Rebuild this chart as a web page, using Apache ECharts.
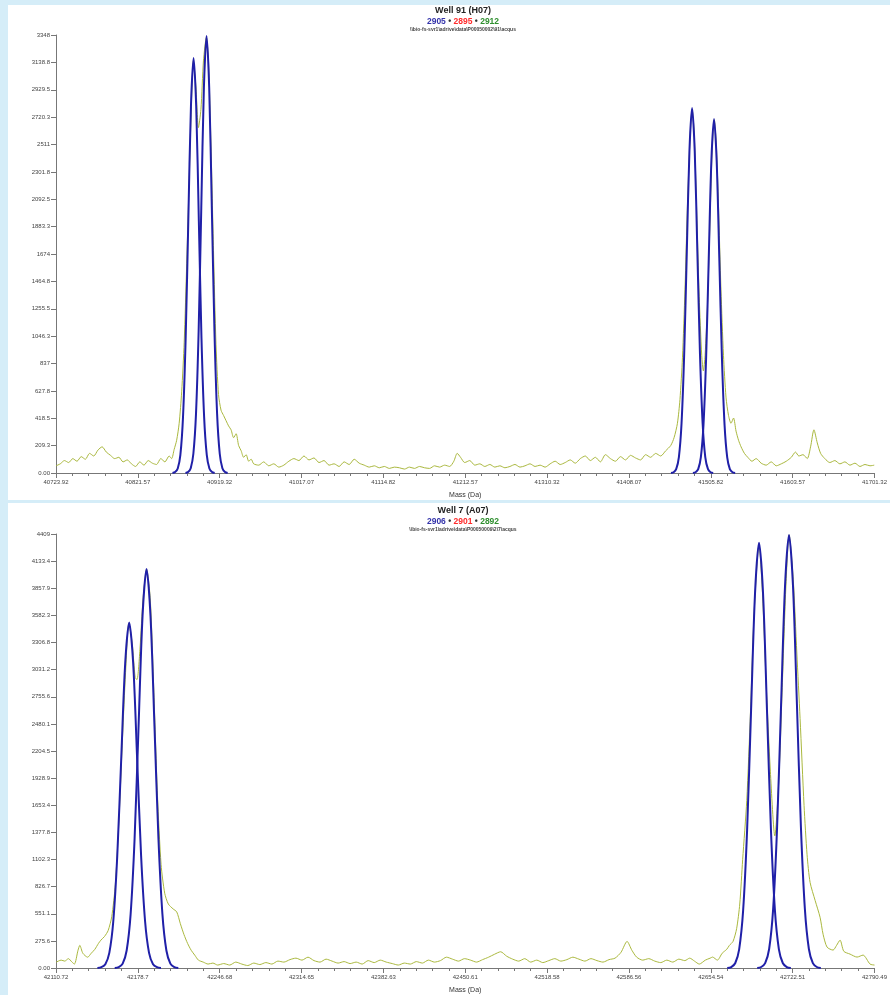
<!DOCTYPE html>
<html>
<head>
<meta charset="utf-8">
<script src="https://cdn.jsdelivr.net/npm/echarts@6/dist/echarts.min.js"></script>
<style>
  html, body { margin: 0; padding: 0; background: #d5edf8; }
  #chart { width: 890px; height: 995px; }
</style>
</head>
<body>
<div id="chart"></div>
<script>
// tick labels as printed on the axes
const topXTicks = ['40723.92', '40821.57', '40919.32', '41017.07', '41114.82', '41212.57', '41310.32', '41408.07', '41505.82', '41603.57', '41701.32'];
const topYTicks = ['0.00', '209.3', '418.5', '627.8', '837', '1046.3', '1255.5', '1464.8', '1674', '1883.3', '2092.5', '2301.8', '2511', '2720.3', '2929.5', '3138.8', '3348'];
const botXTicks = ['42110.72', '42178.7', '42246.68', '42314.65', '42382.63', '42450.61', '42518.58', '42586.56', '42654.54', '42722.51', '42790.49'];
const botYTicks = ['0.00', '275.6', '551.1', '826.7', '1102.3', '1377.8', '1653.4', '1928.9', '2204.5', '2480.1', '2755.6', '3031.2', '3306.8', '3582.3', '3857.9', '4133.4', '4409'];

// raw spectrum, well 91 (H07)  [mass, intensity]
const topSpectrum = [
  [40724, 55], [40729, 70], [40734, 95], [40739, 80], [40744, 110], [40749, 90], [40754, 125], [40759, 105],
  [40764, 150], [40769, 130], [40774, 175], [40779, 200], [40784, 160], [40789, 135], [40794, 110], [40799, 120],
  [40804, 85], [40809, 100], [40814, 70], [40819, 50], [40824, 85], [40829, 60], [40834, 95], [40839, 75],
  [40844, 65], [40849, 110], [40854, 85], [40859, 130], [40862, 110], [40865, 180], [40868, 250], [40871, 380],
  [40874, 620], [40877, 1000], [40880, 1600], [40883, 2250], [40885.5, 2800], [40888, 3150], [40891, 2950],
  [40894, 2640], [40897, 2780], [40900, 3150], [40903.5, 3330], [40906, 3150], [40909, 2500], [40912, 1700],
  [40915, 980], [40918, 600], [40921, 480], [40924, 440], [40927, 400], [40930, 360], [40933, 330], [40936, 270],
  [40939, 300], [40942, 210], [40945, 170], [40948, 120], [40951, 140], [40954, 90], [40957, 105], [40960, 70],
  [40966, 60], [40972, 85], [40978, 55], [40984, 70], [40990, 45], [40996, 60], [41002, 90], [41008, 110],
  [41014, 95], [41020, 130], [41026, 100], [41032, 115], [41038, 80], [41044, 95], [41050, 60], [41056, 70],
  [41062, 50], [41068, 85], [41074, 65], [41080, 105], [41086, 75], [41092, 60], [41098, 45], [41104, 55],
  [41110, 40], [41116, 50], [41122, 35], [41128, 45], [41134, 40], [41140, 30], [41146, 45], [41152, 35],
  [41158, 50], [41164, 40], [41170, 35], [41176, 55], [41182, 45], [41188, 60], [41194, 50], [41199, 90],
  [41203, 150], [41207, 120], [41212, 80], [41218, 95], [41224, 60], [41230, 70], [41236, 50], [41242, 65],
  [41248, 45], [41254, 55], [41260, 40], [41266, 50], [41272, 65], [41278, 45], [41284, 55], [41290, 70],
  [41296, 50], [41302, 60], [41308, 45], [41314, 70], [41320, 90], [41326, 65], [41332, 80], [41338, 100],
  [41344, 75], [41350, 110], [41356, 130], [41362, 95], [41368, 120], [41374, 85], [41380, 140], [41386, 110],
  [41392, 90], [41398, 125], [41404, 100], [41410, 135], [41416, 115], [41422, 100], [41428, 140], [41434, 120],
  [41440, 150], [41446, 130], [41452, 170], [41458, 210], [41462, 270], [41466, 380], [41469, 560], [41472, 880],
  [41475, 1400], [41478, 2050], [41481, 2550], [41483.5, 2780], [41486, 2600], [41489, 2000], [41492, 1350],
  [41495, 900], [41497, 780], [41499, 900], [41502, 1300], [41505, 1950], [41507.5, 2480], [41510, 2700],
  [41512.5, 2500], [41515, 2050], [41518, 1400], [41521, 900], [41524, 580], [41527, 440], [41530, 380],
  [41533, 420], [41536, 320], [41539, 250], [41542, 200], [41546, 150], [41550, 120], [41555, 90], [41560, 110],
  [41566, 75], [41572, 60], [41578, 85], [41584, 55], [41590, 70], [41596, 90], [41602, 120], [41607, 160],
  [41611, 130], [41616, 140], [41621, 110], [41625, 200], [41629, 330], [41633, 230], [41637, 150], [41642, 110],
  [41648, 80], [41654, 95], [41660, 70], [41666, 85], [41672, 60], [41678, 75], [41684, 50], [41690, 65],
  [41696, 55], [41701, 60]
];

// fitted peaks, well 91
const topPeak1 = [
  [40863.0, 0], [40866.15, 7], [40869.3, 35], [40872.45, 139], [40875.6, 429], [40878.75, 1030], [40881.9, 1924],
  [40885.05, 2799], [40888.2, 3172], [40891.35, 2799], [40894.5, 1924], [40897.65, 1030], [40900.8, 429],
  [40903.95, 139], [40907.1, 35], [40910.25, 7], [40913.4, 0]
];
const topPeak2 = [
  [40878.5, 0], [40881.65, 7], [40884.8, 37], [40887.95, 147], [40891.1, 452], [40894.25, 1085], [40897.4, 2026],
  [40900.55, 2948], [40903.7, 3340], [40906.85, 2948], [40910, 2026], [40913.15, 1085], [40916.3, 452],
  [40919.45, 147], [40922.6, 37], [40925.75, 7], [40928.9, 0]
];
const topPeak3 = [
  [41458.3, 0], [41461.45, 6], [41464.6, 31], [41467.75, 122], [41470.9, 378], [41474.05, 906], [41477.2, 1692],
  [41480.35, 2462], [41483.5, 2790], [41486.65, 2462], [41489.8, 1692], [41492.95, 906], [41496.1, 378],
  [41499.25, 122], [41502.4, 31], [41505.55, 6], [41508.7, 0]
];
const topPeak4 = [
  [41484.5, 0], [41487.65, 6], [41490.8, 30], [41493.95, 119], [41497.1, 366], [41500.25, 879], [41503.4, 1641],
  [41506.55, 2388], [41509.7, 2706], [41512.85, 2388], [41516, 1641], [41519.15, 879], [41522.3, 366],
  [41525.45, 119], [41528.6, 30], [41531.75, 6], [41534.9, 0]
];

// raw spectrum, well 7 (A07)
const botSpectrum = [
  [42111, 60], [42115, 80], [42118, 70], [42121, 95], [42124, 60], [42126, 40], [42129, 180], [42130.5, 230],
  [42133, 150], [42137, 110], [42140, 150], [42143, 190], [42146, 250], [42148, 283], [42151, 320], [42154, 380],
  [42157, 520], [42160, 850], [42163, 1500], [42166, 2350], [42168.5, 3000], [42171.2, 3500], [42174, 3300],
  [42176.5, 2950], [42178, 2930], [42180.5, 3250], [42183, 3750], [42186, 4050], [42189, 3750], [42192, 2800],
  [42195, 1750], [42198, 1050], [42201, 760], [42204, 650], [42208, 600], [42211, 570], [42214, 450], [42217, 340],
  [42220, 250], [42223, 180], [42226, 130], [42229, 80], [42233, 60], [42237, 40], [42241, 50], [42245, 30],
  [42250, 45], [42255, 30], [42260, 60], [42265, 40], [42270, 25], [42275, 50], [42280, 35], [42285, 55],
  [42290, 40], [42295, 70], [42300, 60], [42305, 85], [42310, 100], [42315, 80], [42320, 110], [42325, 75],
  [42330, 60], [42335, 90], [42340, 70], [42345, 50], [42350, 65], [42355, 45], [42360, 60], [42365, 40],
  [42370, 75], [42375, 55], [42380, 80], [42385, 60], [42390, 45], [42395, 30], [42400, 50], [42405, 40],
  [42410, 65], [42415, 50], [42420, 80], [42425, 60], [42430, 75], [42435, 110], [42440, 90], [42445, 70],
  [42450, 95], [42455, 80], [42460, 60], [42465, 85], [42470, 110], [42475, 140], [42480, 165], [42485, 120],
  [42490, 90], [42495, 70], [42500, 95], [42505, 60], [42510, 80], [42515, 55], [42520, 75], [42525, 95],
  [42530, 70], [42535, 85], [42540, 110], [42545, 90], [42550, 70], [42555, 95], [42560, 75], [42565, 60],
  [42570, 85], [42575, 100], [42580, 160], [42585, 270], [42589, 180], [42593, 110], [42598, 80], [42603, 95],
  [42608, 70], [42613, 55], [42618, 80], [42623, 60], [42628, 90], [42633, 75], [42637, 100], [42641, 70],
  [42645, 40], [42650, 80], [42654, 100], [42656, 111], [42660, 80], [42664, 150], [42667.8, 190], [42670, 230],
  [42673, 270], [42676, 400], [42678.6, 650], [42681, 1100], [42684.4, 1700], [42687.5, 2600], [42690.5, 3600],
  [42694.6, 4300], [42697.5, 3800], [42700.5, 2900], [42704, 2000], [42707.7, 1342], [42711, 1900], [42714, 2900],
  [42717, 3900], [42719.6, 4400], [42723, 3950], [42726, 3200], [42728.7, 2533], [42732, 1650], [42734.5, 1150],
  [42737, 870], [42741.2, 686], [42745.3, 515], [42747.8, 343], [42751.1, 212], [42756.1, 182], [42759, 230],
  [42761.9, 283], [42765, 170], [42770.2, 141], [42776, 111], [42781, 131], [42786.8, 40], [42790.5, 30]
];

// fitted peaks, well 7
const botPeak1 = [
  [42145.1, 0], [42148.4, 8], [42151.7, 39], [42155, 154], [42158.3, 475], [42161.6, 1140], [42164.9, 2129],
  [42168.2, 3098], [42171.5, 3511], [42174.8, 3098], [42178.1, 2129], [42181.4, 1140], [42184.7, 475],
  [42188, 154], [42191.3, 39], [42194.6, 8], [42197.9, 0]
];
const botPeak2 = [
  [42159.5, 0], [42162.8, 9], [42166.1, 45], [42169.4, 178], [42172.7, 548], [42176, 1316], [42179.3, 2458],
  [42182.6, 3577], [42185.9, 4053], [42189.2, 3577], [42192.5, 2458], [42195.8, 1316], [42199.1, 548],
  [42202.4, 178], [42205.7, 45], [42209, 9], [42212.3, 0]
];
const botPeak3 = [
  [42668.2, 0], [42671.5, 10], [42674.8, 48], [42678.1, 190], [42681.4, 585], [42684.7, 1403], [42688, 2621],
  [42691.3, 3813], [42694.6, 4321], [42697.9, 3813], [42701.2, 2621], [42704.5, 1403], [42707.8, 585],
  [42711.1, 190], [42714.4, 48], [42717.7, 10], [42721, 0]
];
const botPeak4 = [
  [42693.1, 0], [42696.4, 10], [42699.7, 49], [42703, 193], [42706.3, 595], [42709.6, 1429], [42712.9, 2669],
  [42716.2, 3883], [42719.5, 4400], [42722.8, 3883], [42726.1, 2669], [42729.4, 1429], [42732.7, 595],
  [42736, 193], [42739.3, 49], [42742.6, 10], [42745.9, 0]
];

const FONT = 'Liberation Sans, Arial, sans-serif';
const RAW_COLOR = '#aab83e';
const FIT_COLOR = '#2020a8';

const chart = echarts.init(document.getElementById('chart'));

const nums = arr => arr.map(s => parseFloat(s));
const labelFor = arr => v => {
  const hit = arr.find(s => Math.abs(parseFloat(s) - v) < 1e-6);
  return hit === undefined ? '' : hit;
};
// minor ticks: 5 sub-steps between printed ticks
const minorTicks = arr => {
  const v = nums(arr);
  const out = [];
  for (let i = 0; i < v.length - 1; i++) {
    for (let k = 1; k < 5; k++) out.push(v[i] + (v[i + 1] - v[i]) * k / 5);
  }
  return out;
};

function titles(c, well, ids, path) {
  return [
    {
      text: well, left: 463, top: c - 3, textAlign: 'center', padding: 0,
      textStyle: { fontFamily: FONT, fontSize: 9, fontWeight: 'bold', color: '#222' }
    },
    {
      text: `{b|${ids[0]}} • {r|${ids[1]}} • {g|${ids[2]}}`, left: 463, top: c + 8, textAlign: 'center', padding: 0,
      textStyle: {
        fontFamily: FONT, fontSize: 8.5, fontWeight: 'bold', color: '#333',
        rich: {
          b: { color: '#3333aa', fontFamily: FONT, fontSize: 8.5, fontWeight: 'bold' },
          r: { color: '#ff2a2a', fontFamily: FONT, fontSize: 8.5, fontWeight: 'bold' },
          g: { color: '#2f8f2f', fontFamily: FONT, fontSize: 8.5, fontWeight: 'bold' }
        }
      }
    },
    {
      text: path, left: 463, top: c + 18, textAlign: 'center', padding: 0,
      textStyle: { fontFamily: FONT, fontSize: 5, color: '#444' }
    }
  ];
}

function xAxes(gridIndex, ticks) {
  const v = nums(ticks);
  return [
    {
      type: 'value', gridIndex, position: 'bottom', min: v[0], max: v[v.length - 1],
      name: 'Mass (Da)', nameLocation: 'middle', nameGap: 19,
      nameTextStyle: { fontFamily: FONT, fontSize: 7, color: '#333' },
      axisLine: { lineStyle: { color: '#777', width: 1 } },
      axisTick: { customValues: v, length: 5, lineStyle: { color: '#777' } },
      axisLabel: { customValues: v, formatter: labelFor(ticks), fontFamily: FONT, fontSize: 6, color: '#444', margin: 6 },
      splitLine: { show: false }
    },
    {
      type: 'value', gridIndex, position: 'bottom', min: v[0], max: v[v.length - 1],
      axisLine: { show: false },
      axisTick: { customValues: minorTicks(ticks), length: 3, lineStyle: { color: '#777' } },
      axisLabel: { show: false },
      splitLine: { show: false }
    }
  ];
}

function yAxis(gridIndex, ticks) {
  const v = nums(ticks);
  return {
    type: 'value', gridIndex, min: 0, max: v[v.length - 1],
    axisLine: { show: true, lineStyle: { color: '#777', width: 1 } },
    axisTick: { show: true, customValues: v, length: 5, lineStyle: { color: '#777' } },
    axisLabel: { customValues: v, formatter: labelFor(ticks), fontFamily: FONT, fontSize: 6, color: '#444', margin: 6 },
    splitLine: { show: false }
  };
}

const raw = (data, xi, yi) => ({
  type: 'line', data, xAxisIndex: xi, yAxisIndex: yi, symbol: 'none', smooth: 0.25,
  lineStyle: { color: RAW_COLOR, width: 1 }, z: 2, silent: true
});
const fit = (data, xi, yi) => ({
  type: 'line', data, xAxisIndex: xi, yAxisIndex: yi, symbol: 'none', smooth: 0.3,
  lineStyle: { color: FIT_COLOR, width: 2 }, z: 3, silent: true
});

const option = {
  backgroundColor: '#d5edf8',
  animation: false,
  graphic: [
    { type: 'rect', shape: { x: 8, y: 5, width: 882, height: 495 }, style: { fill: '#ffffff' }, z: -10 },
    { type: 'rect', shape: { x: 8, y: 503, width: 882, height: 492 }, style: { fill: '#ffffff' }, z: -10 }
  ],
  title: [
    ...titles(9, 'Well 91 (H07)', ['2905', '2895', '2912'], '\\\\bio-fs-svr1\\adrive\\data\\P00050002\\91\\acqus'),
    ...titles(509, 'Well 7 (A07)', ['2906', '2901', '2892'], '\\\\bio-fs-svr1\\adrive\\data\\P00050009\\2\\7\\acqus')
  ],
  grid: [
    { left: 56, right: 15, top: 35, height: 438 },
    { left: 56, right: 15, top: 534, height: 437 }
  ],
  xAxis: [...xAxes(0, topXTicks), ...xAxes(1, botXTicks)],
  yAxis: [yAxis(0, topYTicks), yAxis(1, botYTicks)],
  series: [
    raw(topSpectrum, 0, 0),
    fit(topPeak1, 0, 0), fit(topPeak2, 0, 0), fit(topPeak3, 0, 0), fit(topPeak4, 0, 0),
    raw(botSpectrum, 2, 1),
    fit(botPeak1, 2, 1), fit(botPeak2, 2, 1), fit(botPeak3, 2, 1), fit(botPeak4, 2, 1)
  ]
};

chart.setOption(option);
</script>
</body>
</html>
